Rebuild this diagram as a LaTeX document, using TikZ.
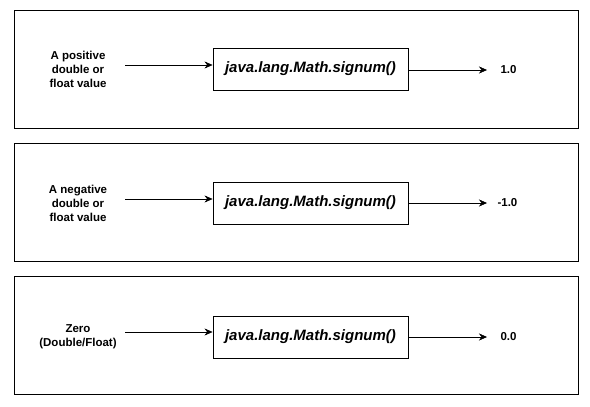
\documentclass[tikz,border=0pt]{standalone}
\usepackage{fontspec}
\setmainfont{Liberation Sans}
\usetikzlibrary{positioning}
\usetikzlibrary{arrows.meta}

\begin{document}
\begin{tikzpicture}[x=1pt,y=-1pt,
    panel/.style={draw,line width=0.9pt,minimum width=564pt,minimum height=118pt},
    call/.style={draw,line width=0.9pt,minimum width=195pt,minimum height=42pt,font=\fontsize{15}{17}\selectfont\bfseries\itshape},
    arg/.style={align=center,font=\fontsize{11.5}{14}\selectfont\bfseries},
    res/.style={anchor=west,font=\fontsize{11.5}{14}\selectfont\bfseries},
    >={Stealth[length=8pt,width=7pt]}]
    \useasboundingbox (0,0) rectangle (590,407);

    \node[panel] (p1) at (296,69) {};
    \node[panel] (p2) at (296,202.5) {};
    \node[panel] (p3) at (296,335.5) {};

    \node[call] (m1) at (310.5,69) {java.lang.Math.signum()};
    \node[call] (m2) at (310.5,203) {java.lang.Math.signum()};
    \node[call] (m3) at (310.5,337) {java.lang.Math.signum()};

    \node[arg] (in1) at (78,69) {A positive\\double or\\float value};
    \node[arg] (in2) at (78,203) {A negative\\double or\\float value};
    \node[arg] (in3) at (78,337) {Zero\\(Double/Float)};

    \node[res] (out1) at (497,70) {1.0};
    \node[res] (out2) at (494,203) {-1.0};
    \node[res] (out3) at (497,337) {0.0};

    \coordinate (s1) at (125,65);
    \coordinate (s2) at (125,199);
    \coordinate (s3) at (125,332);

    \draw[->] (s1) -- (s1 -| m1.west);
    \draw[->] (s2) -- (s2 -| m2.west);
    \draw[->] (s3) -- (s3 -| m3.west);

    \draw[->,shorten >=10pt] (m1.east |- out1.west) -- (out1.west);
    \draw[->,shorten >=10pt] (m2.east |- out2.west) -- ([xshift=3pt]out2.west);
    \draw[->,shorten >=10pt] (m3.east |- out3.west) -- (out3.west);
\end{tikzpicture}
\end{document}
